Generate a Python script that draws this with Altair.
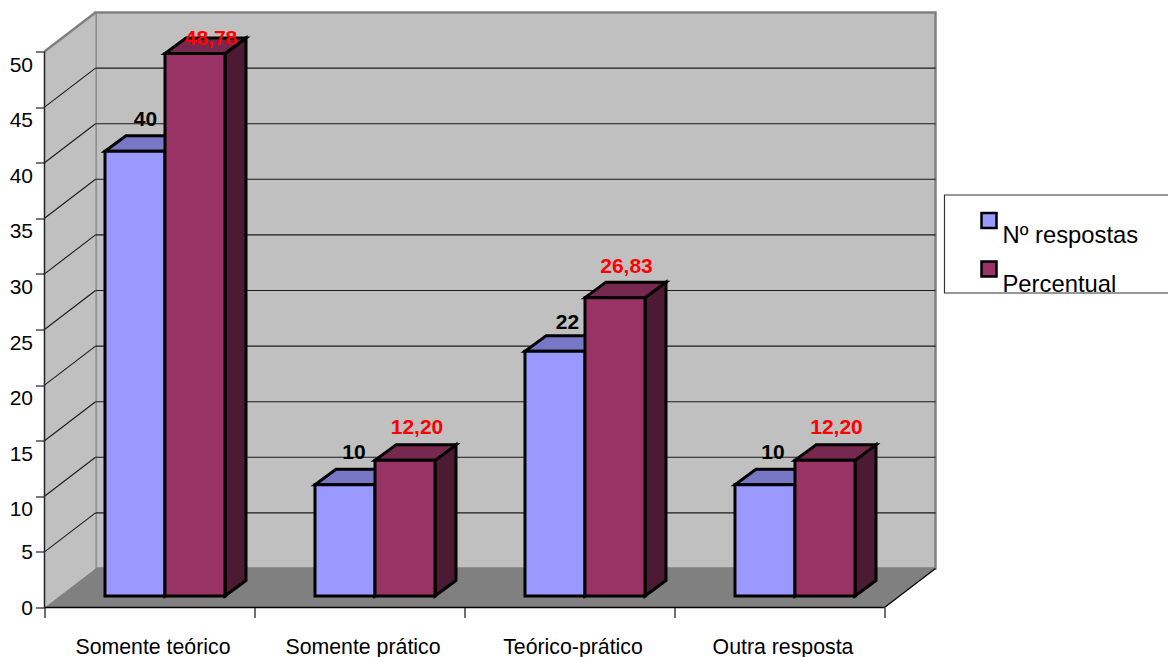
import altair as alt
import pandas as pd

# Values
categories = ["Somente teórico", "Somente prático", "Teórico-prático", "Outra resposta"]
n_respostas = [40, 10, 22, 10]
percentual = [48.78, 12.20, 26.83, 12.20]
y_ticks = [0, 5, 10, 15, 20, 25, 30, 35, 40, 45, 50]
series_names = ["Nº respostas", "Percentual"]

# Pixel layout of the oblique projection
PX_PER_CAT = 210
PX_PER_UNIT = 11.12
PLOT_W, PLOT_H = 891, 595
FONT = "Liberation Sans"

WALL_DX = 51 / PX_PER_CAT      # floor depth, in category units
WALL_DY = 39 / PX_PER_UNIT     # floor depth, in value units
BAR_X0 = 60.5 / PX_PER_CAT     # gap before the first bar of a group
BAR_W = 60 / PX_PER_CAT
BAR_Y0 = 11.5 / PX_PER_UNIT    # bars stand slightly behind the front edge
BAR_DX = 21 / PX_PER_CAT       # bar depth
BAR_DY = 15.5 / PX_PER_UNIT
N = len(categories)

# Per-label nudges (px): sideways from the bar centre, up from the bar top
label_dx = {0: [10.5, 9, 12.5, 8], 1: [16, 12, 11.5, 11.5]}
label_lift = {0: [31.5, 31.5, 28.5, 31.5], 1: [14.5, 32, 30.5, 32]}

FRONT = ["#9999FF", "#993366"]
TOP = ["#7777C6", "#77284F"]
SIDE = ["#4C4C80", "#4C1B33"]
LABEL = ["black", "#FF0000"]

x_scale = alt.Scale(domain=[0, PLOT_W / PX_PER_CAT], nice=False, zero=False)
y_scale = alt.Scale(domain=[0, PLOT_H / PX_PER_UNIT], nice=False, zero=False)


def X(field, **kw):
    return alt.X(field, type="quantitative", scale=x_scale, axis=None, **kw)


def Y(field, **kw):
    return alt.Y(field, type="quantitative", scale=y_scale, axis=None, **kw)


X2 = lambda f: alt.X2(f)
Y2 = lambda f: alt.Y2(f)


def rules(rows, color, width):
    return alt.Chart(pd.DataFrame(rows, columns=["a", "b", "c", "d"])).mark_rule(
        color=color, strokeWidth=width
    ).encode(x=X("a"), x2=X2("c"), y=Y("b"), y2=Y2("d"))


# Axes carried by an otherwise empty layer
axes = alt.Chart(pd.DataFrame({"x": [0.0], "y": [0.0]})).mark_point(opacity=0).encode(
    x=alt.X(
        "x:Q", scale=x_scale, title=None,
        axis=alt.Axis(values=list(range(N + 1)), labels=False, grid=False, domain=False,
                      tickSize=10, tickColor="#111111", tickWidth=1.2),
    ),
    y=alt.Y(
        "y:Q", scale=y_scale, title=None,
        axis=alt.Axis(values=y_ticks, grid=False, domain=False, tickSize=9,
                      tickColor="#222222", tickWidth=1.2, labelPadding=3,
                      labelFont=FONT, labelFontSize=21, labelColor="black",
                      labelOffset={"condition": {"test": "datum.value >= 10", "value": 13.5}, "value": 1}),
    ),
)

# Walls and floor
back_wall = alt.Chart(pd.DataFrame({
    "x": [WALL_DX], "x2": [WALL_DX + N], "y": [WALL_DY], "y2": [WALL_DY + 50]
})).mark_rect(fill="#C0C0C0", stroke="#808080", strokeWidth=2.5).encode(
    x=X("x"), x2=X2("x2"), y=Y("y"), y2=Y2("y2"))

left_wall = alt.Chart(pd.DataFrame({
    "x": [0, WALL_DX], "y": [0, WALL_DY], "y2": [50, 50 + WALL_DY]
})).mark_area(fill="#C0C0C0", opacity=1).encode(x=X("x"), y=Y("y"), y2=Y2("y2"))

floor = alt.Chart(pd.DataFrame({
    "y": [0, WALL_DY], "x": [0, WALL_DX], "x2": [N, N + WALL_DX]
})).mark_area(fill="#808080", orient="horizontal", opacity=1).encode(
    x=X("x"), x2=X2("x2"), y=Y("y"))

grid_back = rules([(WALL_DX, t + WALL_DY, WALL_DX + N, t + WALL_DY) for t in y_ticks[1:-1]], "#1a1a1a", 1.1)
grid_left = rules([(0, t, WALL_DX, t + WALL_DY) for t in y_ticks[1:-1]], "#1a1a1a", 1.1)
top_edge = rules([(0, 50, WALL_DX, 50 + WALL_DY)], "#808080", 2.5)
y_line = rules([(0, 0, 0, 50)], "#222222", 1.5)
base = rules([(0, 0, N, 0), (N, 0, N + WALL_DX, WALL_DY)], "black", 1.3)


def bar_layers(s, values):
    x0 = [i + BAR_X0 + s * BAR_W for i in range(N)]
    x1 = [x + BAR_W for x in x0]
    tops = [v + BAR_Y0 for v in values]

    top_rows, side_rows = [], []
    for i in range(N):
        top_rows += [
            dict(bar=i, y=tops[i], a=x0[i], b=x1[i]),
            dict(bar=i, y=tops[i] + BAR_DY, a=x0[i] + BAR_DX, b=x1[i] + BAR_DX),
        ]
        side_rows += [
            dict(bar=i, x=x1[i], lo=BAR_Y0, hi=tops[i]),
            dict(bar=i, x=x1[i] + BAR_DX, lo=BAR_Y0 + BAR_DY, hi=tops[i] + BAR_DY),
        ]

    stroke = dict(stroke="black", strokeWidth=3, strokeJoin="miter", opacity=1)
    side = alt.Chart(pd.DataFrame(side_rows)).mark_area(fill=SIDE[s], **stroke).encode(
        x=X("x"), y=Y("lo"), y2=Y2("hi"), detail="bar:N")
    top = alt.Chart(pd.DataFrame(top_rows)).mark_area(
        fill=TOP[s], orient="horizontal", **stroke
    ).encode(x=X("a"), x2=X2("b"), y=Y("y"), detail="bar:N")
    front = alt.Chart(pd.DataFrame({
        "x0": x0, "x1": x1, "y0": [BAR_Y0] * N, "y1": tops, "serie": [series_names[s]] * N,
    })).mark_rect(stroke="black", strokeWidth=3, fill=FRONT[s]).encode(
        x=X("x0"), x2=X2("x1"), y=Y("y0"), y2=Y2("y1"))
    return [side, top, front]


def value_labels(s, values, texts):
    df = pd.DataFrame({
        "x": [i + BAR_X0 + (s + 0.5) * BAR_W + label_dx[s][i] / PX_PER_CAT for i in range(N)],
        "y": [values[i] + BAR_Y0 + label_lift[s][i] / PX_PER_UNIT for i in range(N)],
        "t": texts,
    })
    return alt.Chart(df).mark_text(
        font=FONT, fontSize=21, fontWeight="bold", color=LABEL[s], baseline="middle"
    ).encode(x=X("x"), y=Y("y"), text="t:N")


category_labels = alt.Chart(pd.DataFrame({
    "x": [i + 0.5 for i in range(N)], "t": categories,
})).mark_text(font=FONT, fontSize=21.3, color="black", baseline="middle", dx=3.5).encode(
    x=X("x"), y=alt.value(635), text="t:N")

# Legend panel; it runs off the right edge of the page
legend_box = alt.Chart(pd.DataFrame({"k": [0]})).mark_rect(
    fill="white", stroke="#333333", strokeWidth=1.2
).encode(x=alt.value(900), x2=alt.value(1200), y=alt.value(182.5), y2=alt.value(280.5))


def legend_entry(s):
    swatch_y = [208, 256.5][s]
    text_y = [230, 279][s]
    d = pd.DataFrame({"t": [series_names[s]]})
    swatch = alt.Chart(d).mark_rect(fill=FRONT[s], stroke="black", strokeWidth=2.5).encode(
        x=alt.value(937), x2=alt.value(952),
        y=alt.value(swatch_y - 7.5), y2=alt.value(swatch_y + 7.5))
    label = alt.Chart(d).mark_text(
        font=FONT, fontSize=23.8, color="black", align="left", baseline="alphabetic"
    ).encode(x=alt.value(958), y=alt.value(text_y), text="t:N")
    return [swatch, label]


count_labels = [str(v) for v in n_respostas]
pct_labels = [f"{v:.2f}".replace(".", ",") for v in percentual]

layers = [
    back_wall, left_wall, floor, grid_back, grid_left, top_edge, axes, y_line, base,
    *bar_layers(0, n_respostas),
    *bar_layers(1, percentual),
    value_labels(0, n_respostas, count_labels),
    value_labels(1, percentual, pct_labels),
    category_labels,
    legend_box,
    *legend_entry(0),
    *legend_entry(1),
]

chart = alt.layer(*layers).resolve_axis(x="independent", y="independent").properties(
    width=PLOT_W,
    height=PLOT_H,
    padding={"left": 44.5, "top": 12.5, "right": 232.5, "bottom": 49.5},
    autosize=alt.AutoSizeParams(type="none"),
    background="white",
).configure_view(stroke=None)

chart.save("out.html", embed_options={"renderer": "svg", "actions": False})
